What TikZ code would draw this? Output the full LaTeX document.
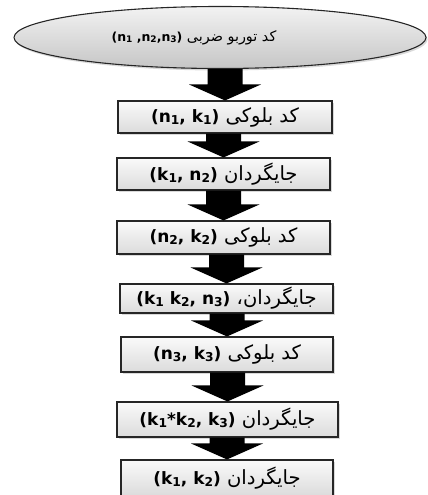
\documentclass[tikz,border=0pt]{standalone}
\usepackage{fontspec}
\setmainfont{DejaVu Sans}
\newfontfamily\arabicfont[Script=Arabic,Scale=1.15]{DejaVu Sans}
\TeXXeTstate=1
\usetikzlibrary{calc,shapes.geometric,shadows}
\newcommand{\lat}[1]{\beginL{\normalfont\bfseries #1}\endL}
\newcommand{\ix}[1]{\raisebox{-0.12em}{\scalebox{0.72}{#1}}}
\newcommand{\fa}[2]{{\arabicfont\beginR #1 \lat{#2}\endR}}
\newcommand{\bigarrow}[2]{%
  \fill let \p1=(#1.south), \p2=(#2.north) in
    (\x2-17.5pt,\y1) -- (\x2-17.5pt,\y2+16pt) -- (\x2-36pt,\y2+16pt) -- (\x2,\y2)
    -- (\x2+36pt,\y2+16pt) -- (\x2+17.5pt,\y2+16pt) -- (\x2+17.5pt,\y1) -- cycle;}
\tikzset{
  stage/.style={draw=black!85,line width=1.1pt,top color=gray!4,bottom color=gray!28,
    inner sep=0pt,minimum width=213pt,minimum height=32pt,font=\fontsize{17}{20}\selectfont,
    drop shadow={opacity=0.3,shadow xshift=1.5pt,shadow yshift=-1.5pt}},
  turbo/.style={ellipse,draw=black!85,line width=1.1pt,top color=gray!10,bottom color=gray!45,
    inner sep=0pt,minimum width=412pt,minimum height=62pt,
    drop shadow={opacity=0.3,shadow xshift=1.5pt,shadow yshift=-2pt}}
}
\begin{document}
\begin{tikzpicture}[x=1pt,y=-1pt]
\useasboundingbox (0,0) rectangle (428,495);
\node[turbo,label={[xshift=-26pt,font=\fontsize{12.5}{15}\selectfont]center:{\arabicfont\beginR کد توربو ضربی \lat{(n\ix1 ,n\ix2,n\ix3)}\endR}}] (turbo) at (220,37.5) {};
\node[stage,minimum width=214pt] (blk1) at (225,117) {\fa{کد بلوکی}{(n\ix1, k\ix1)}};
\node[stage] (perm1) at (223.5,174) {\fa{جایگردان}{(k\ix1, n\ix2)}};
\node[stage,minimum height=33pt] (blk2) at (223.5,237.5) {\fa{کد بلوکی}{(n\ix2, k\ix2)}};
\node[stage,minimum height=29pt] (perm2) at (226.5,298.5) {\fa{جایگردان،}{(k\ix1 k\ix2, n\ix3)}};
\node[stage,minimum width=212pt,minimum height=35pt] (blk3) at (227,354.5) {\fa{کد بلوکی}{(n\ix3, k\ix3)}};
\node[stage,minimum width=221pt,minimum height=35pt] (perm3) at (227.5,419.5) {\fa{جایگردان}{(k\ix1*k\ix2, k\ix3)}};
\node[stage,minimum width=212pt,minimum height=36pt] (perm4) at (227,478) {\fa{جایگردان}{(k\ix1, k\ix2)}};
\bigarrow{turbo}{blk1}
\bigarrow{blk1}{perm1}
\bigarrow{perm1}{blk2}
\bigarrow{blk2}{perm2}
\bigarrow{perm2}{blk3}
\bigarrow{blk3}{perm3}
\bigarrow{perm3}{perm4}
\end{tikzpicture}
\end{document}
